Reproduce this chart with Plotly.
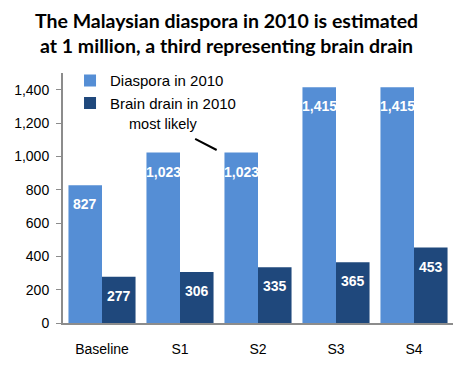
import plotly.graph_objects as go

categories = ["Baseline", "S1", "S2", "S3", "S4"]
diaspora_2010 = [827, 1023, 1023, 1415, 1415]
brain_drain_2010 = [277, 306, 335, 365, 453]
y_ticks = [0, 200, 400, 600, 800, 1000, 1200, 1400]

LIGHT = "#558ED5"
DARK = "#1F487C"
BASE_FONT = "Arial, Liberation Sans"

# Figure geometry
W, H = 453, 365
M_L, M_R, M_T, M_B = 63, 0, 73, 42
BARGAP = 0.14
plot_w = W - M_L - M_R
plot_h = H - M_T - M_B
cat_w = plot_w / len(categories)
bar_w = cat_w * (1 - BARGAP) / 2

fig = go.Figure()
fig.add_trace(go.Bar(name="Diaspora in 2010", x=categories, y=diaspora_2010,
                     marker=dict(color=LIGHT, line=dict(width=0))))
fig.add_trace(go.Bar(name="Brain drain in 2010", x=categories, y=brain_drain_2010,
                     marker=dict(color=DARK, line=dict(width=0))))

# White value labels just below the top of each bar
for series, offset in ((diaspora_2010, -bar_w / 2), (brain_drain_2010, bar_w / 2)):
    for cat, val in zip(categories, series):
        fig.add_annotation(x=cat, y=val, xref="x", yref="y", text=f"<b>{val:,}</b>",
                           showarrow=False, xshift=offset, yshift=-19,
                           xanchor="center", yanchor="middle",
                           font=dict(family=BASE_FONT, size=14, color="white"))

# "most likely" callout pointing at the S2 scenario
fig.add_annotation(x=0.78, y=1195, xref="x", yref="y", text="most likely",
                   showarrow=False,
                   font=dict(family=BASE_FONT, size=14.5, color="black"))
fig.add_annotation(x=1.47, y=1038, xref="x", yref="y", text="",
                   showarrow=True, arrowhead=0, arrowwidth=2, arrowcolor="black",
                   ax=-23, ay=-12)

# Two-line bold headline, centred on the whole figure
fig.add_annotation(x=(W / 2 - M_L) / plot_w, y=(H - M_B - 33) / plot_h,
                   xref="paper", yref="paper",
                   xanchor="center", yanchor="middle", showarrow=False, align="center",
                   text="<b>The Malaysian diaspora in 2010 is estimated<br>"
                        "at 1 million, a third representing brain drain</b>",
                   font=dict(family="Lato", size=19.5, color="black"))

fig.update_layout(
    width=W, height=H,
    margin=dict(l=M_L, r=M_R, t=M_T, b=M_B),
    paper_bgcolor="white", plot_bgcolor="white",
    barmode="group", bargap=BARGAP, bargroupgap=0,
    font=dict(family=BASE_FONT, size=14, color="black"),
    legend=dict(x=0.018, y=1.035, xanchor="left", yanchor="top",
                bgcolor="rgba(0,0,0,0)", font=dict(size=15),
                itemwidth=30, tracegroupgap=0),
    showlegend=True,
)
fig.update_xaxes(showline=True, linecolor="#8C8C8C", linewidth=2,
                 ticks="", showgrid=False, ticklabelstandoff=12)
fig.update_yaxes(range=[0, 1500], tickvals=y_ticks, tickformat=",d",
                 showline=True, linecolor="#8C8C8C", linewidth=2,
                 ticks="outside", ticklen=5, tickcolor="#8C8C8C",
                 showgrid=False, zeroline=False, ticklabelstandoff=4)

fig.write_html("out.html")
